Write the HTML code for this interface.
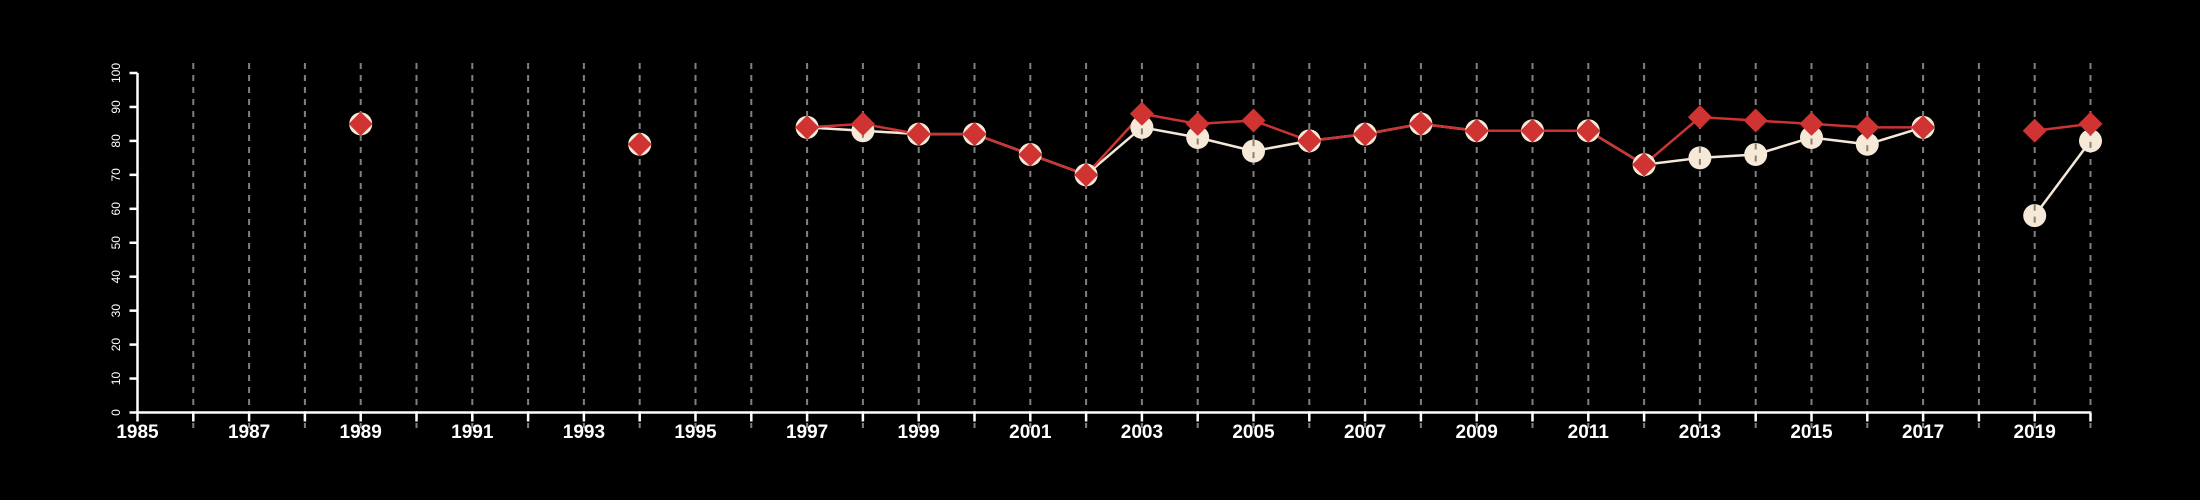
<!DOCTYPE html>
<html><head><meta charset="utf-8"><style>
html,body{margin:0;padding:0;background:#000;}
svg{display:block;font-family:"Liberation Sans",Arial,sans-serif;}
</style></head><body>
<svg id="chart" width="2200" height="500" viewBox="0 0 2200 500" xmlns="http://www.w3.org/2000/svg">
<rect width="2200" height="500" fill="#000"/>
<g id="grid"></g>
<g id="axes"></g>
<g id="series"></g>
</svg>
<script>
const years = [1985,1986,1987,1988,1989,1990,1991,1992,1993,1994,1995,1996,1997,1998,1999,2000,2001,2002,2003,2004,2005,2006,2007,2008,2009,2010,2011,2012,2013,2014,2015,2016,2017,2018,2019,2020];
const whiteSeries = [null,null,null,null,85,null,null,null,null,79,null,null,84,83,82,82,76,70,84,81,77,80,82,85,83,83,83,73,75,76,81,79,84,null,58,80];
const redSeries = [null,null,null,null,85,null,null,null,null,79,null,null,84,85,82,82,76,70,88,85,86,80,82,85,83,83,83,73,87,86,85,84,84,null,83,85];
const yTicks = [0,10,20,30,40,50,60,70,80,90,100];
const xLabels = [1985,1987,1989,1991,1993,1995,1997,1999,2001,2003,2005,2007,2009,2011,2013,2015,2017,2019];

const NS = "http://www.w3.org/2000/svg";
const X0 = 137.5, X1 = 2090.5, Y0 = 412.5, Y1 = 73;
function xs(v){ return X0 + (v - 1985) / 35 * (X1 - X0); }
function ys(v){ return Y0 - v / 100 * (Y0 - Y1); }
function mk(tag, attrs, parent){ const e = document.createElementNS(NS, tag); for (const k in attrs) e.setAttribute(k, attrs[k]); parent.appendChild(e); return e; }

const grid = document.getElementById('grid');
const axes = document.getElementById('axes');
const series = document.getElementById('series');

years.forEach(y => {
  if (y === 1985) return;
  const l = mk('line', {x1: xs(y), x2: xs(y), y1: 63, y2: 428, stroke: '#808080', 'stroke-width': 2, 'stroke-dasharray': '6,6'}, grid);
  
  
});

const xa = mk('line', {x1: X0, x2: X1, y1: Y0, y2: Y0, stroke: '#fff', 'stroke-width': 2.5}, axes);


years.forEach(y => {
  const t = mk('line', {x1: xs(y), x2: xs(y), y1: Y0, y2: Y0 + 9, stroke: '#fff', 'stroke-width': 2.5}, axes);
  
  
});
xLabels.forEach(y => {
  const t = mk('text', {x: xs(y), y: 438, fill: '#fff', 'font-size': 19, 'font-weight': 'bold', 'text-anchor': 'middle'}, axes);
  t.textContent = y;
  
  
});
const ya = mk('line', {x1: X0, x2: X0, y1: Y0, y2: Y1, stroke: '#fff', 'stroke-width': 2.5}, axes);


yTicks.forEach(v => {
  const t = mk('line', {x1: X0 - 8, x2: X0, y1: ys(v), y2: ys(v), stroke: '#fff', 'stroke-width': 2.5}, axes);
  
  
  const lb = mk('text', {x: 0, y: 0, fill: '#fff', 'font-size': 12, 'text-anchor': 'middle', transform: 'translate(120,' + ys(v) + ') rotate(-90)'}, axes);
  lb.textContent = v;
  
  
});

function drawLine(vals, color, name){
  let seg = [];
  const flush = () => {
    if (seg.length > 1) {
      const p = mk('polyline', {points: seg.join(' '), fill: 'none', stroke: color, 'stroke-width': 2.5}, series);
      
      
    }
    seg = [];
  };
  vals.forEach((v, i) => { if (v === null) flush(); else seg.push(xs(years[i]) + ',' + ys(v)); });
  flush();
}
drawLine(whiteSeries, '#f5e8d8', 'white-series');
drawLine(redSeries, '#cc3333', 'red-series');

whiteSeries.forEach((v, i) => {
  if (v === null) return;
  const c = mk('circle', {cx: xs(years[i]), cy: ys(v), r: 11.5, fill: '#f7e9d7'}, series);
  
  
  const d = mk('line', {x1: xs(years[i]), x2: xs(years[i]), y1: ys(v) - 11, y2: ys(v) + 11, stroke: '#8a8070', 'stroke-width': 2, 'stroke-dasharray': '6,6'}, series);
  
  
});
redSeries.forEach((v, i) => {
  if (v === null) return;
  const x = xs(years[i]), y = ys(v), r = 12;
  const p = mk('polygon', {points: x + ',' + (y - r) + ' ' + (x + r) + ',' + y + ' ' + x + ',' + (y + r) + ' ' + (x - r) + ',' + y, fill: '#cf3433'}, series);
  
  
});
</script>
</body></html>
